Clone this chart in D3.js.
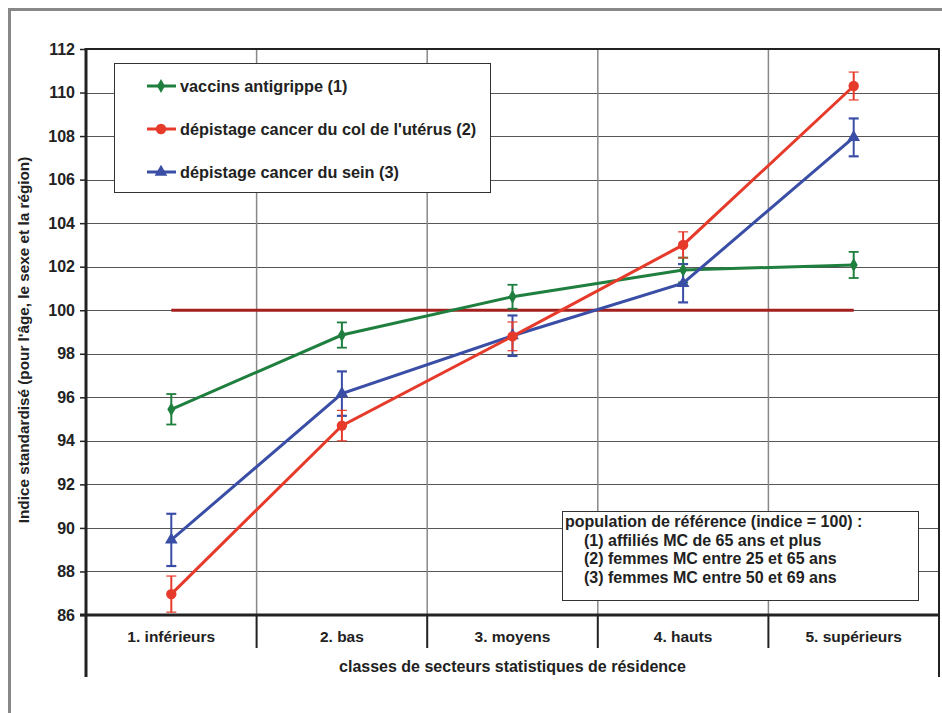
<!DOCTYPE html>
<html>
<head>
<meta charset="utf-8">
<script src="https://cdn.jsdelivr.net/npm/d3@7"></script>
<style>
  body { margin: 0; background: #fff; }
  svg text { font-family: Arial, "Liberation Sans", sans-serif; font-weight: bold; fill: #222; }
</style>
</head>
<body>
<script>
const categories = ["1. inférieurs", "2. bas", "3. moyens", "4. hauts", "5. supérieurs"];
const yTicks = [86, 88, 90, 92, 94, 96, 98, 100, 102, 104, 106, 108, 110, 112];

const vaccins = [95.45, 98.86, 100.62, 101.85, 102.08];
const vaccinsErr = [0.7, 0.58, 0.55, 0.57, 0.6];
const uterus = [86.96, 94.7, 98.8, 103.0, 110.3];
const uterusErr = [0.83, 0.7, 0.66, 0.6, 0.64];
const sein = [89.45, 96.17, 98.83, 101.24, 107.94];
const seinErr = [1.2, 1.02, 0.93, 0.88, 0.87];
const reference = 100;

const seriesNames = ["vaccins antigrippe (1)", "dépistage cancer du col de l'utérus (2)", "dépistage cancer du sein (3)"];
const noteLines = ["population de référence (indice = 100) :", "(1) affiliés MC de 65 ans et plus", "(2) femmes MC entre 25 et 65 ans", "(3) femmes MC entre 50 et 69 ans"];

const w = 942, h = 713;
const pLeft = 86, pRight = 939, pTop = 49, pBottom = 615;

const svg = d3.select("body").append("svg").attr("width", w).attr("height", h);

// outer frame
svg.append("path")
   .attr("d", "M9.5,740 V9.5 H960")
   .attr("fill", "none").attr("stroke", "#888").attr("stroke-width", 3);

const xScale = d3.scaleBand().domain(categories).range([pLeft, pRight]);
const yScale = d3.scaleLinear().domain([86, 112]).range([pBottom, pTop]);
const cx = (i) => xScale(categories[i]) + xScale.bandwidth() / 2;

// horizontal grid
svg.append("g").selectAll("line").data(yTicks.slice(1)).enter().append("line")
   .attr("x1", pLeft).attr("x2", pRight)
   .attr("y1", d => Math.round(yScale(d)) + 0.5).attr("y2", d => Math.round(yScale(d)) + 0.5)
   .attr("stroke", "#555").attr("stroke-width", 1);

// vertical dividers inside plot
svg.append("g").selectAll("line").data(categories.slice(1)).enter().append("line")
   .attr("x1", d => xScale(d)).attr("x2", d => xScale(d))
   .attr("y1", pTop).attr("y2", pBottom)
   .attr("stroke", "#888").attr("stroke-width", 1.5);

// dividers in the category row
svg.append("g").selectAll("line").data(categories.slice(1)).enter().append("line")
   .attr("x1", d => xScale(d)).attr("x2", d => xScale(d))
   .attr("y1", pBottom).attr("y2", 648)
   .attr("stroke", "#222").attr("stroke-width", 2);

// plot border top/right
svg.append("path").attr("d", `M${pLeft},${pTop} H${pRight} V677`)
   .attr("fill", "none").attr("stroke", "#222").attr("stroke-width", 2);

// y axis
const yAxis = d3.axisLeft(yScale).tickValues(yTicks).tickSize(6).tickPadding(5);
const ya = svg.append("g").attr("transform", `translate(${pLeft},0)`).call(yAxis);
ya.select(".domain").remove();
ya.selectAll(".tick line").attr("stroke", "#222").attr("stroke-width", 1.5);
ya.selectAll(".tick text").style("font-size", "16px").style("font-family", "Arial, 'Liberation Sans', sans-serif")
  .style("font-weight", "bold").attr("fill", "#222");

svg.append("line").attr("x1", pLeft).attr("x2", pLeft).attr("y1", pTop - 1).attr("y2", 677)
   .attr("stroke", "#222").attr("stroke-width", 3);
svg.append("line").attr("x1", pLeft - 6).attr("x2", pRight + 1).attr("y1", pBottom).attr("y2", pBottom)
   .attr("stroke", "#222").attr("stroke-width", 3);

// x labels
svg.append("g").selectAll("text").data(categories).enter().append("text")
   .attr("x", (d, i) => cx(i)).attr("y", 642)
   .attr("text-anchor", "middle").style("font-size", "15.5px")
   .text(d => d);

svg.append("text").attr("x", (pLeft + pRight) / 2).attr("y", 672).attr("text-anchor", "middle")
   .style("font-size", "16px").text("classes de secteurs statistiques de résidence");

svg.append("text").attr("transform", "translate(29,340) rotate(-90)").attr("text-anchor", "middle")
   .style("font-size", "15.3px").text("Indice standardisé (pour l'âge, le sexe et la région)");

// reference line
svg.append("line").attr("x1", cx(0)).attr("x2", cx(4))
   .attr("y1", yScale(reference)).attr("y2", yScale(reference))
   .attr("stroke", "#a3201f").attr("stroke-width", 3);

const series = [
  { vals: vaccins, err: vaccinsErr, color: "#1f7f3e", sym: d3.symbolDiamond, size: 55, capW: 1.8 },
  { vals: sein, err: seinErr, color: "#3a4ea6", sym: d3.symbolTriangle, size: 70, capW: 2.2 },
  { vals: uterus, err: uterusErr, color: "#e63a2a", sym: d3.symbolCircle, size: 85, capW: 1.2 }
];

const line = d3.line().x((d, i) => cx(i)).y(d => yScale(d));

// error bars
series.forEach(s => {
  const g = svg.append("g");
  s.vals.forEach((v, i) => {
    const x = cx(i), y1 = yScale(v + s.err[i]), y2 = yScale(v - s.err[i]);
    g.append("line").attr("x1", x).attr("x2", x).attr("y1", y1).attr("y2", y2)
     .attr("stroke", s.color).attr("stroke-width", 2);
    [y1, y2].forEach(yy => g.append("line").attr("x1", x - 5).attr("x2", x + 5).attr("y1", yy).attr("y2", yy)
     .attr("stroke", s.color).attr("stroke-width", s.capW));
  });
});

// lines + markers
series.forEach(s => {
  svg.append("path").datum(s.vals).attr("d", line).attr("fill", "none")
     .attr("stroke", s.color).attr("stroke-width", 3);
  svg.append("g").selectAll("path").data(s.vals).enter().append("path")
     .attr("d", d3.symbol().type(s.sym).size(s.size))
     .attr("transform", (d, i) => `translate(${cx(i)},${yScale(d)})`)
     .attr("fill", s.color);
});

// legend
const lg = svg.append("g");
lg.append("rect").attr("x", 114.5).attr("y", 63.5).attr("width", 376).attr("height", 129)
  .attr("fill", "#fff").attr("stroke", "#333").attr("stroke-width", 1);
const legendItems = [
  { name: seriesNames[0], s: series[0], y: 86 },
  { name: seriesNames[1], s: series[2], y: 129 },
  { name: seriesNames[2], s: series[1], y: 172 }
];
legendItems.forEach(it => {
  lg.append("line").attr("x1", 147).attr("x2", 176).attr("y1", it.y).attr("y2", it.y)
    .attr("stroke", it.s.color).attr("stroke-width", 3);
  lg.append("path").attr("d", d3.symbol().type(it.s.sym).size(it.s.size))
    .attr("transform", `translate(161,${it.y})`).attr("fill", it.s.color);
  lg.append("text").attr("x", 180).attr("y", it.y + 6).style("font-size", "16.3px").text(it.name);
});

// note box
const nb = svg.append("g");
nb.append("rect").attr("x", 562.5).attr("y", 511.5).attr("width", 356).attr("height", 89)
  .attr("fill", "#fff").attr("stroke", "#333").attr("stroke-width", 1);
noteLines.forEach((t, i) => {
  nb.append("text").attr("x", i === 0 ? 565 : 584).attr("y", 527 + i * 18.5)
    .style("font-size", "16px").text(t);
});
</script>
</body>
</html>
